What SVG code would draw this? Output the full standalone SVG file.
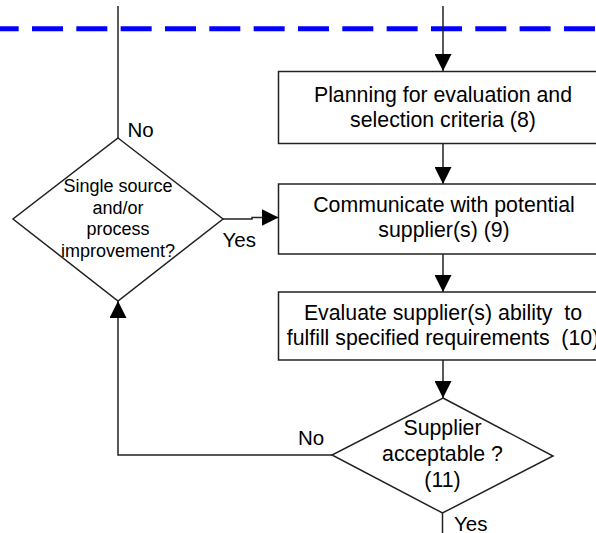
<svg xmlns="http://www.w3.org/2000/svg" width="596" height="533" viewBox="0 0 596 533">
<style>
.ln{fill:none;stroke:#222;stroke-width:1.5}
.nd{fill:#fff;stroke:#222;stroke-width:1.5}
.t{font-family:"Liberation Sans",Arial,sans-serif;font-size:21.3px;fill:#000;text-anchor:middle}
.s{font-family:"Liberation Sans",Arial,sans-serif;font-size:18px;fill:#000;text-anchor:middle}
.lb{font-family:"Liberation Sans",Arial,sans-serif;font-size:20.5px;fill:#000}
</style>
<defs>
<marker id="ah" markerUnits="userSpaceOnUse" markerWidth="17" markerHeight="17" viewBox="0 0 16 16" refX="16" refY="8" orient="auto">
<path d="M0,0 L16,8 L0,16 Z" fill="#000"/>
</marker>
</defs>
<line x1="-12.33" y1="28.7" x2="600" y2="28.7" stroke="#0000ff" stroke-width="5" stroke-dasharray="31 13.33"/>
<g id="connectors">
<line class="ln" x1="443" y1="6" x2="443" y2="71" marker-end="url(#ah)"/>
<line class="ln" x1="118" y1="6" x2="118" y2="138"/>
<line class="ln" x1="443" y1="143" x2="443" y2="184" marker-end="url(#ah)"/>
<line class="ln" x1="443" y1="254" x2="443" y2="292" marker-end="url(#ah)"/>
<line class="ln" x1="443" y1="360" x2="443" y2="398" marker-end="url(#ah)"/>
<path class="ln" d="M223,219 H252 V217.5 H278.5" marker-end="url(#ah)"/>
<path class="ln" d="M332,455 H118 V301" marker-end="url(#ah)"/>
<line class="ln" x1="442.5" y1="513" x2="442.5" y2="540"/>
</g>
<g id="n8">
<rect class="nd" x="278.5" y="71.5" width="340" height="72"/>
<text class="t" x="443" y="102">Planning for evaluation and</text>
<text class="t" x="443" y="127">selection criteria (8)</text>
</g>
<g id="n9">
<rect class="nd" x="278.5" y="184" width="340" height="70"/>
<text class="t" x="444" y="212">Communicate with potential</text>
<text class="t" x="444" y="237">supplier(s) (9)</text>
</g>
<g id="n10">
<rect class="nd" x="278.5" y="292" width="340" height="68"/>
<text class="t" x="443" y="320" xml:space="preserve">Evaluate supplier(s) ability  to</text>
<text class="t" x="443" y="345" xml:space="preserve">fulfill specified requirements  (10)</text>
</g>
<g id="single">
<polygon class="nd" points="118,138 223,219 118,301 13,219"/>
<text class="s" x="118" y="192">Single source</text>
<text class="s" x="118" y="213.5">and/or</text>
<text class="s" x="118" y="235">process</text>
<text class="s" x="118" y="257">improvement?</text>
</g>
<g id="n11">
<polygon class="nd" points="443,398 553,456 442.5,513 332,455"/>
<text class="t" x="442.5" y="435">Supplier</text>
<text class="t" x="442.5" y="461">acceptable ?</text>
<text class="t" x="442.5" y="487">(11)</text>
</g>
<g id="labels">
<text class="lb" x="127.5" y="137">No</text>
<text class="lb" x="222.5" y="247">Yes</text>
<text class="lb" x="298" y="445">No</text>
<text class="lb" x="454" y="531">Yes</text>
</g>
</svg>
